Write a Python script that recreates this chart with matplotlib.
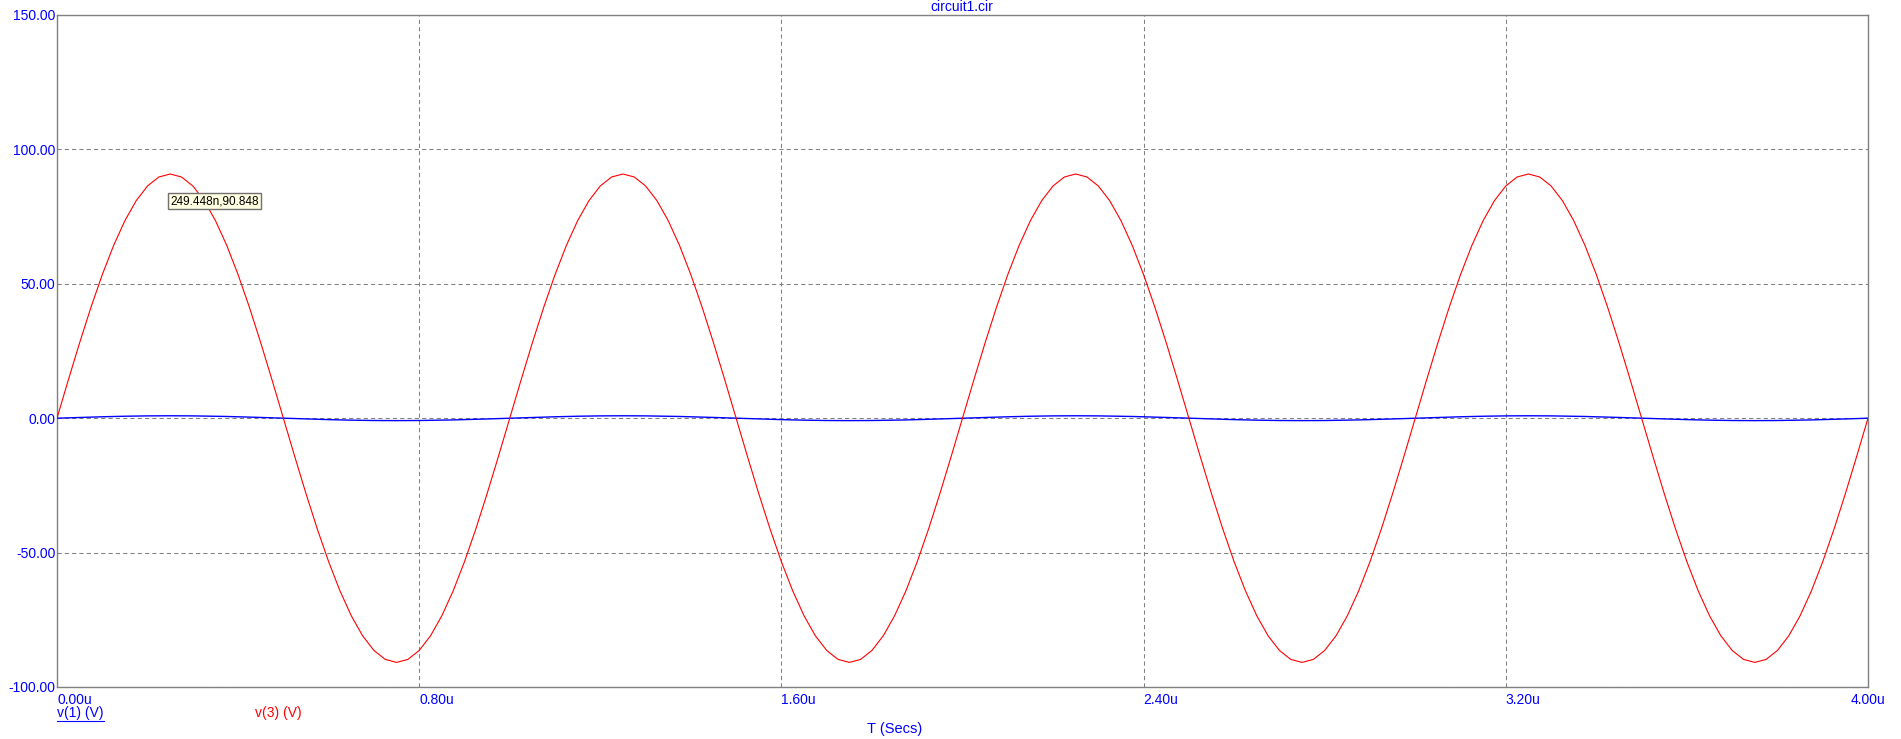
import numpy as np
import matplotlib
matplotlib.use("Agg")
import matplotlib.pyplot as plt
from matplotlib.lines import Line2D

# time axis (microseconds), sampled every 25 ns
t_us = np.linspace(0.0, 4.0, 161)

# v(3), one half cycle per row
v3 = [
    0.00, 14.21, 28.07, 41.25, 53.40, 64.24, 73.50, 80.95, 86.40, 89.73,
    90.85, 89.73, 86.40, 80.95, 73.50, 64.24, 53.40, 41.25, 28.07, 14.21,
    0.00, -14.21, -28.07, -41.25, -53.40, -64.24, -73.50, -80.95, -86.40, -89.73,
    -90.85, -89.73, -86.40, -80.95, -73.50, -64.24, -53.40, -41.25, -28.07, -14.21,
    0.00, 14.21, 28.07, 41.25, 53.40, 64.24, 73.50, 80.95, 86.40, 89.73,
    90.85, 89.73, 86.40, 80.95, 73.50, 64.24, 53.40, 41.25, 28.07, 14.21,
    0.00, -14.21, -28.07, -41.25, -53.40, -64.24, -73.50, -80.95, -86.40, -89.73,
    -90.85, -89.73, -86.40, -80.95, -73.50, -64.24, -53.40, -41.25, -28.07, -14.21,
    0.00, 14.21, 28.07, 41.25, 53.40, 64.24, 73.50, 80.95, 86.40, 89.73,
    90.85, 89.73, 86.40, 80.95, 73.50, 64.24, 53.40, 41.25, 28.07, 14.21,
    0.00, -14.21, -28.07, -41.25, -53.40, -64.24, -73.50, -80.95, -86.40, -89.73,
    -90.85, -89.73, -86.40, -80.95, -73.50, -64.24, -53.40, -41.25, -28.07, -14.21,
    0.00, 14.21, 28.07, 41.25, 53.40, 64.24, 73.50, 80.95, 86.40, 89.73,
    90.85, 89.73, 86.40, 80.95, 73.50, 64.24, 53.40, 41.25, 28.07, 14.21,
    0.00, -14.21, -28.07, -41.25, -53.40, -64.24, -73.50, -80.95, -86.40, -89.73,
    -90.85, -89.73, -86.40, -80.95, -73.50, -64.24, -53.40, -41.25, -28.07, -14.21,
    0.00,
]

# v(1): small trace near zero, in phase with v(3)
v1 = [
    0.00, 0.14, 0.28, 0.41, 0.53, 0.64, 0.73, 0.80, 0.86, 0.89,
    0.90, 0.89, 0.86, 0.80, 0.73, 0.64, 0.53, 0.41, 0.28, 0.14,
    0.00, -0.14, -0.28, -0.41, -0.53, -0.64, -0.73, -0.80, -0.86, -0.89,
    -0.90, -0.89, -0.86, -0.80, -0.73, -0.64, -0.53, -0.41, -0.28, -0.14,
    0.00, 0.14, 0.28, 0.41, 0.53, 0.64, 0.73, 0.80, 0.86, 0.89,
    0.90, 0.89, 0.86, 0.80, 0.73, 0.64, 0.53, 0.41, 0.28, 0.14,
    0.00, -0.14, -0.28, -0.41, -0.53, -0.64, -0.73, -0.80, -0.86, -0.89,
    -0.90, -0.89, -0.86, -0.80, -0.73, -0.64, -0.53, -0.41, -0.28, -0.14,
    0.00, 0.14, 0.28, 0.41, 0.53, 0.64, 0.73, 0.80, 0.86, 0.89,
    0.90, 0.89, 0.86, 0.80, 0.73, 0.64, 0.53, 0.41, 0.28, 0.14,
    0.00, -0.14, -0.28, -0.41, -0.53, -0.64, -0.73, -0.80, -0.86, -0.89,
    -0.90, -0.89, -0.86, -0.80, -0.73, -0.64, -0.53, -0.41, -0.28, -0.14,
    0.00, 0.14, 0.28, 0.41, 0.53, 0.64, 0.73, 0.80, 0.86, 0.89,
    0.90, 0.89, 0.86, 0.80, 0.73, 0.64, 0.53, 0.41, 0.28, 0.14,
    0.00, -0.14, -0.28, -0.41, -0.53, -0.64, -0.73, -0.80, -0.86, -0.89,
    -0.90, -0.89, -0.86, -0.80, -0.73, -0.64, -0.53, -0.41, -0.28, -0.14,
    0.00,
]

x_ticks = [0.0, 0.8, 1.6, 2.4, 3.2, 4.0]
x_tick_labels = ["0.00u", "0.80u", "1.60u", "2.40u", "3.20u", "4.00u"]
y_ticks = [-100, -50, 0, 50, 100, 150]

cursor_t, cursor_v = 0.249448, 90.848

plt.rcParams['font.family'] = ['Liberation Sans', 'DejaVu Sans']

fig = plt.figure(figsize=(19.01, 7.39), dpi=100)
ax = fig.add_axes([57 / 1901, 52 / 739, (1868 - 57) / 1901, (687 - 15) / 739])

ax.plot(t_us, v1, color='#0000ff', lw=1.0, zorder=3)
ax.plot(t_us, v3, color='#ff0000', lw=0.8, zorder=4)

ax.set_xlim(0, 4.0)
ax.set_ylim(-100, 150)
ax.set_xticks(x_ticks)
ax.set_xticklabels(x_tick_labels)
ax.set_yticks(y_ticks)
ax.set_yticklabels([f"{v:.2f}" for v in y_ticks])
ax.tick_params(length=0, labelsize=10, labelcolor='#0000ff')
ax.tick_params(axis='x', pad=4)
ax.tick_params(axis='y', pad=1)
for lab in ax.get_xticklabels()[:-1]:
    lab.set_ha('left')
ax.get_xticklabels()[-1].set_ha('center')

ax.grid(True, color='#808080', lw=0.75, linestyle=(0, (4, 3)))
for s in ax.spines.values():
    s.set_color('#808080')
    s.set_linewidth(1.0)

fig.text(962 / 1901, 1 - 7 / 739, "circuit1.cir", color='#0000ff',
         fontsize=10, ha='center', va='center')
fig.text(57 / 1901, 1 - 713 / 739, "v(1) (V)", color='#0000ff',
         fontsize=10, ha='left', va='center')
fig.add_artist(Line2D([57 / 1901, 104 / 1901], [1 - 721 / 739, 1 - 721 / 739],
                      color='#0000ff', lw=0.8))
fig.text(255 / 1901, 1 - 713 / 739, "v(3) (V)", color='#ff0000',
         fontsize=10, ha='left', va='center')
fig.text(867 / 1901, 1 - 729 / 739, "T (Secs)", color='#0000ff',
         fontsize=10.5, ha='left', va='center')

# cursor readout box
ax.annotate(f"{cursor_t * 1000:.3f}n,{cursor_v:.3f}", xy=(cursor_t, cursor_v),
            xytext=(170 / 1901, 1 - 201 / 739), textcoords='figure fraction',
            fontsize=8.5, color='black', ha='left', va='center', zorder=6,
            bbox=dict(boxstyle='square,pad=0.2', fc='#ffffe1', ec='#707070', lw=1.0))

fig.savefig("out.png", dpi=100)
plt.close('all')
